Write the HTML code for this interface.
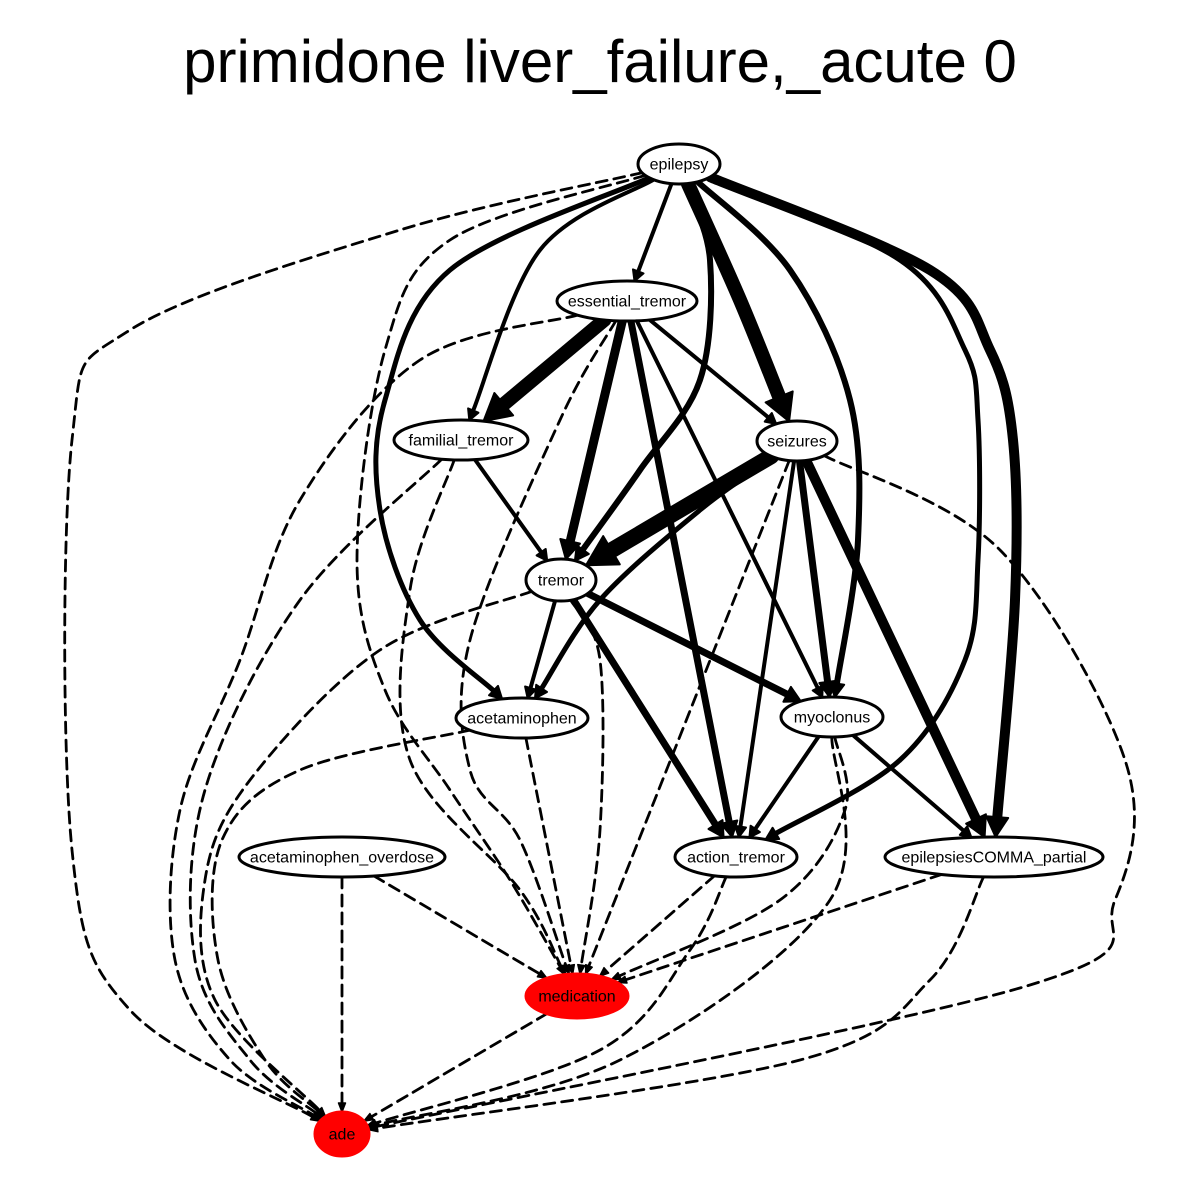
<!DOCTYPE html>
<html><head><meta charset="utf-8">
<style>
html,body{margin:0;padding:0;background:#fff;}
svg{display:block;font-family:"Liberation Sans",Arial,sans-serif;}
</style></head>
<body>
<svg id="g" width="1200" height="1200" viewBox="0 0 1200 1200">
<rect width="1200" height="1200" fill="#fff"/>
<text x="600" y="82" text-anchor="middle" font-size="60">primidone liver_failure,_acute 0</text>
<g id="edges"></g>
<g id="nodes"></g>
</svg>
<script>
// node data: name, cx, cy, rx, ry, fill
const nodeNames = ["epilepsy","essential_tremor","familial_tremor","seizures","tremor","acetaminophen","myoclonus","acetaminophen_overdose","action_tremor","epilepsiesCOMMA_partial","medication","ade"];
const nodeX = [679,627,461,797,561,522,832,342,736,994,577,342];
const nodeY = [164,301,440,441,580,718,717,857,857,857,996,1134];
const nodeRX = [41,70,67,40,35,66,51,103,61,109,51,27];
const nodeRY = [20,20,20,20,21,20,20,20,20,20,22,22];
const nodeRed = ["medication","ade"];

// edges: from, to, weight, dashed, via points (layout routing)
const edgeFrom = ["epilepsy","epilepsy","epilepsy","epilepsy","epilepsy","epilepsy","epilepsy","epilepsy",
 "essential_tremor","essential_tremor","essential_tremor","essential_tremor","essential_tremor",
 "familial_tremor","seizures","seizures","seizures","seizures","seizures",
 "tremor","tremor","tremor","myoclonus","myoclonus",
 "epilepsy","essential_tremor","familial_tremor","tremor","acetaminophen","seizures","action_tremor","myoclonus","epilepsiesCOMMA_partial","acetaminophen_overdose",
 "epilepsy","essential_tremor","familial_tremor","tremor","acetaminophen","acetaminophen_overdose","medication","action_tremor","myoclonus","epilepsiesCOMMA_partial","seizures"];
const edgeTo = ["essential_tremor","familial_tremor","acetaminophen","tremor","seizures","myoclonus","action_tremor","epilepsiesCOMMA_partial",
 "familial_tremor","tremor","seizures","action_tremor","myoclonus",
 "tremor","tremor","acetaminophen","myoclonus","action_tremor","epilepsiesCOMMA_partial",
 "acetaminophen","myoclonus","action_tremor","action_tremor","epilepsiesCOMMA_partial",
 "medication","medication","medication","medication","medication","medication","medication","medication","medication","medication",
 "ade","ade","ade","ade","ade","ade","ade","ade","ade","ade","ade"];
const edgeWeight = [4,4,5,6,14,6,5,10, 14,9,4,7,4, 4,16,5,7,4,10, 4,7,7,4,4,
 2.8,2.8,2.8,2.8,2.8,2.8,2.8,2.8,2.8,2.8, 2.8,2.8,2.8,2.8,2.8,2.8,2.8,2.8,2.8,2.8,2.8];
const edgeDashed = [0,0,0,0,0,0,0,0, 0,0,0,0,0, 0,0,0,0,0,0, 0,0,0,0,0,
 1,1,1,1,1,1,1,1,1,1, 1,1,1,1,1,1,1,1,1,1,1];
const edgeVia = [
 [],[[540,250]],[[450,270],[385,400],[380,510],[420,620]],[[710,260],[700,380],[640,470]],[[740,300]],[[790,270],[850,400],[858,540]],[[900,260],[965,350],[978,420],[978,560],[965,660],[900,760]],[[930,270],[990,350],[1013,440],[1015,600]],
 [],[],[],[],[],
 [],[],[[700,510],[600,600]],[],[],[],
 [],[],[],[],[],
 [[450,240],[385,350],[357,560],[385,690],[450,790],[510,880]],[[560,420],[470,640],[470,770],[520,840]],[[410,590],[410,760],[520,890]],[[600,660],[600,830]],[],[],[],[[845,810],[780,900]],[],[],
 [[400,230],[130,330],[72,440],[72,850],[130,1010]],[[420,360],[300,500],[240,660],[180,810],[175,960],[230,1060]],[[300,600],[205,790],[195,960],[250,1060]],[[380,650],[250,780],[205,880],[215,1000]],[[300,770],[222,840],[218,960],[265,1060]],[],[],[[690,950],[600,1050]],[[830,900],[620,1060]],[[930,980],[800,1060]],[[1000,550],[1125,760],[1115,900],[1030,985]]
];

const NS="http://www.w3.org/2000/svg";
function idx(n){return nodeNames.indexOf(n);}
function boundary(i,tx,ty){
  const cx=nodeX[i],cy=nodeY[i],dx=tx-cx,dy=ty-cy;
  const t=1/Math.sqrt((dx*dx)/(nodeRX[i]*nodeRX[i])+(dy*dy)/(nodeRY[i]*nodeRY[i]));
  return [cx+dx*t,cy+dy*t];
}
function crPath(p){
  let d="M"+p[0][0].toFixed(1)+","+p[0][1].toFixed(1);
  for(let i=0;i<p.length-1;i++){
    const p0=p[i-1]||p[i],p1=p[i],p2=p[i+1],p3=p[i+2]||p[i+1];
    const c1=[p1[0]+(p2[0]-p0[0])/6,p1[1]+(p2[1]-p0[1])/6];
    const c2=[p2[0]-(p3[0]-p1[0])/6,p2[1]-(p3[1]-p1[1])/6];
    d+=" C"+c1.map(v=>v.toFixed(1)).join(",")+" "+c2.map(v=>v.toFixed(1)).join(",")+" "+p2.map(v=>v.toFixed(1)).join(",");
  }
  return d;
}
const eg=document.getElementById("edges");
for(let e=0;e<edgeFrom.length;e++){
  const a=idx(edgeFrom[e]),b=idx(edgeTo[e]);
  const via=edgeVia[e];
  const first=via.length?via[0]:[nodeX[b],nodeY[b]];
  const last=via.length?via[via.length-1]:[nodeX[a],nodeY[a]];
  const s=boundary(a,first[0],first[1]);
  const t=boundary(b,last[0],last[1]);
  const w=edgeWeight[e];
  let dx=t[0]-last[0],dy=t[1]-last[1];const L=Math.hypot(dx,dy);dx/=L;dy/=L;
  const alen=edgeDashed[e]?9:Math.max(9,w*1.6+4);
  const aw=edgeDashed[e]?3.5:Math.max(4,w*0.9+2);
  const end=[t[0]-dx*alen,t[1]-dy*alen];
  const pts=[s].concat(via,[end]);
  const path=document.createElementNS(NS,"path");
  path.setAttribute("d",crPath(pts));
  path.setAttribute("fill","none");
  path.setAttribute("stroke","#000");
  path.setAttribute("stroke-width",w);
  path.setAttribute("stroke-linecap","round");
  if(edgeDashed[e])path.setAttribute("stroke-dasharray","11,7");
  
  
  eg.appendChild(path);
  const arr=document.createElementNS(NS,"polygon");
  const px=-dy,py=dx;
  const p=[[t[0],t[1]],[end[0]+px*aw,end[1]+py*aw],[end[0]-px*aw,end[1]-py*aw]];
  arr.setAttribute("points",p.map(q=>q[0].toFixed(1)+","+q[1].toFixed(1)).join(" "));
  arr.setAttribute("fill","#000");
  arr.setAttribute("stroke","#000");
  arr.setAttribute("stroke-width",edgeDashed[e]?1.5:2);
  arr.setAttribute("stroke-linejoin","round");
  
  
  eg.appendChild(arr);
}
const ng=document.getElementById("nodes");
for(let i=0;i<nodeNames.length;i++){
  const red=nodeRed.indexOf(nodeNames[i])>=0;
  const el=document.createElementNS(NS,"ellipse");
  el.setAttribute("cx",nodeX[i]);el.setAttribute("cy",nodeY[i]);
  el.setAttribute("rx",nodeRX[i]);el.setAttribute("ry",nodeRY[i]);
  el.setAttribute("fill",red?"#ff0000":"#fff");
  el.setAttribute("stroke",red?"#ff0000":"#000");
  el.setAttribute("stroke-width",3);
  
  
  ng.appendChild(el);
  const tx=document.createElementNS(NS,"text");
  tx.setAttribute("x",nodeX[i]);tx.setAttribute("y",nodeY[i]+5.5);
  tx.setAttribute("text-anchor","middle");tx.setAttribute("font-size","16");
  tx.textContent=nodeNames[i];
  
  
  ng.appendChild(tx);
}
</script>
</body></html>
